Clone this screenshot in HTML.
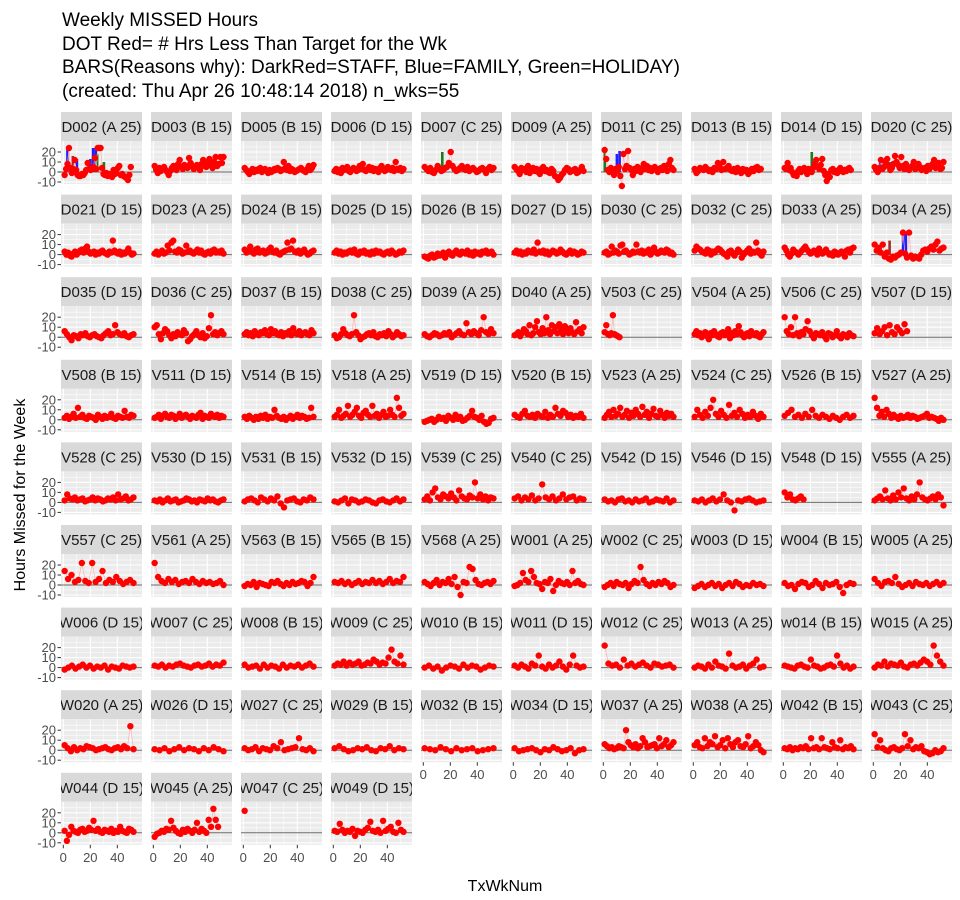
<!DOCTYPE html>
<html><head><meta charset="utf-8">
<style>
body{margin:0;background:#fff;}
svg{display:block;font-family:"Liberation Sans",Arial,sans-serif;}
</style></head>
<body>
<svg id="chart" width="960" height="900">
<g font-size="19" fill="#000">
<text x="62" y="26">Weekly MISSED Hours</text>
<text x="62" y="50">DOT Red= # Hrs Less Than Target for the Wk</text>
<text x="62" y="73">BARS(Reasons why): DarkRed=STAFF, Blue=FAMILY, Green=HOLIDAY)</text>
<text x="62" y="97">(created: Thu Apr 26 10:48:14 2018) n_wks=55</text>
</g>
<text transform="translate(25,495) rotate(-90)" text-anchor="middle" font-size="16">Hours Missed for the Week</text>
<text x="505" y="891" text-anchor="middle" font-size="16">TxWkNum</text>
<g id="panels"></g>
</svg>
<script>
const labels=["D002 (A 25)","D003 (B 15)","D005 (B 15)","D006 (D 15)","D007 (C 25)","D009 (A 25)","D011 (C 25)","D013 (B 15)","D014 (D 15)","D020 (C 25)",
"D021 (D 15)","D023 (A 25)","D024 (B 15)","D025 (D 15)","D026 (B 15)","D027 (D 15)","D030 (C 25)","D032 (C 25)","D033 (A 25)","D034 (A 25)",
"D035 (D 15)","D036 (C 25)","D037 (B 15)","D038 (C 25)","D039 (A 25)","D040 (A 25)","V503 (C 25)","V504 (A 25)","V506 (C 25)","V507 (D 15)",
"V508 (B 15)","V511 (D 15)","V514 (B 15)","V518 (A 25)","V519 (D 15)","V520 (B 15)","V523 (A 25)","V524 (C 25)","V526 (B 15)","V527 (A 25)",
"V528 (C 25)","V530 (D 15)","V531 (B 15)","V532 (D 15)","V539 (C 25)","V540 (C 25)","V542 (D 15)","V546 (D 15)","V548 (D 15)","V555 (A 25)",
"V557 (C 25)","V561 (A 25)","V563 (B 15)","V565 (B 15)","V568 (A 25)","W001 (A 25)","W002 (C 25)","W003 (D 15)","W004 (B 15)","W005 (A 25)",
"W006 (D 15)","W007 (C 25)","W008 (B 15)","W009 (C 25)","W010 (B 15)","W011 (D 15)","W012 (C 25)","W013 (A 25)","w014 (B 15)","W015 (A 25)",
"W020 (A 25)","W026 (D 15)","W027 (C 25)","W029 (B 15)","W032 (B 15)","W034 (D 15)","W037 (A 25)","W038 (A 25)","W042 (B 15)","W043 (C 25)",
"W044 (D 15)","W045 (A 25)","W047 (C 25)","W049 (D 15)"];
const lastWk=[50,52,52,52,52,52,52,50,50,52, 52,52,52,52,52,52,52,52,52,52, 52,52,52,52,52,52,12,52,52,25, 52,52,52,52,52,52,52,52,52,52, 52,52,52,52,52,52,52,52,15,52, 52,52,52,52,52,52,52,52,52,52, 52,52,52,52,52,52,52,52,52,52, 52,52,52,52,52,52,52,52,52,52, 52,48,1,52];
const values=[
"-3 3 8 24 4 -1 3 12 2 -3 -4 -4 -2 -3 -1 2 9 3 2 3 5 14 3 24 24 24 4 -2 -3 -1 -4 -2 -3 -5 2 -2 -1 4 6 -3 -2 -4 -5 -6 -8 -3 5",
"6 2 -1 4 1 3 5 2 0 -3 1 4 6 3 2 8 12 5 3 7 6 4 14 9 6 3 5 7 4 2 8 12 6 5 9 13 7 4 10 15 6 8 15 9 15",
"4 2 0 -2 1 3 0 2 1 3 4 0 2 3 1 -1 2 0 1 3 2 4 3 1 2 10 4 2 6 1 3 2 0 1 2 3 4 2 1 0 3 6 2 4 7",
"1 3 0 2 -1 4 2 3 5 1 0 2 4 3 1 2 6 3 8 2 1 3 5 2 4 1 3 2 0 4 6 3 1 2 5 3 2 4 1 10 3 2 4 1 3",
"5 3 1 4 0 -1 2 6 3 1 2 4 5 9 20 6 3 1 2 4 6 3 2 5 1 3 4 2 0 1 3 4 2 -1 3 5 2 4",
"5 3 1 -2 4 2 3 0 6 -1 2 4 1 3 0 -2 3 5 1 2 0 -1 3 1 -4 -5 -8 -6 -3 -1 2 4 3 0 1 2 3 -1 0 2 5 1",
"22 13 2 0 4 2 -3 3 1 5 -4 -14 18 3 6 21 4 2 -3 3 1 5 2 0 4 8 3 6 2 4 1 3 5 2 0 3 4 2 6 3 1 8 12 4 2",
"3 -1 1 4 3 2 5 3 1 2 0 4 3 9 5 2 10 3 4 6 2 1 3 0 4 2 -1 3 1 2 -2 0 3 1 4 5 2 3",
"4 3 9 2 4 0 -3 -2 -4 1 3 0 2 4 1 -2 3 2 0 4 8 12 5 3 7 13 1 -3 -9 -2 -5 2 3 0 1 -1 2 4 1 0 2 1 3 4 2",
"5 2 0 4 12 3 5 9 13 6 2 4 8 16 10 7 4 15 6 3 8 5 2 4 6 10 3 4 8 5 2 3 4 1 6 3 5 8 12 4 6 9 3 4 10",
"3 0 2 -1 -2 1 3 0 2 4 5 2 6 8 3 1 2 3 0 2 1 3 4 2 1 0 3 2 14 4 2 1 3 0 2 1 3 6 2 0 1",
"1 3 0 2 4 1 2 9 4 12 14 3 2 5 4 1 2 9 3 4 2 1 3 5 2 4 1 0 2 3 1 4 5 2 3 2 4 1",
"5 2 4 8 3 1 5 6 2 3 4 1 2 5 7 3 2 4 1 0 2 3 4 12 5 6 14 3 2 4 1 3 5 2 0 1 3 4",
"2 4 1 3 0 2 1 3 4 2 5 1 0 3 2 4 1 2 0 3 1 4 2 3 1 0 2 3 1 4 2 0 1 3 2 4",
"-2 -3 -4 -1 0 -3 -2 1 -1 0 2 -3 1 3 0 -1 2 4 1 0 3 2 1 4 0 2 -1 3 1 2 0 3 2 4 1 2 3 0",
"2 4 1 3 0 2 1 4 3 2 5 1 12 3 2 4 1 3 0 2 4 3 1 2 5 3 1 0 2 4 1 3 2 0 1 3 2",
"2 3 0 1 8 2 4 3 1 9 10 3 4 2 0 1 3 2 10 3 2 4 1 3 2 5 0 2 7 3 1 2 4 3 2 5 4 1 2 0",
"4 8 6 5 3 2 1 5 4 0 3 2 4 6 5 3 1 0 -2 3 4 1 -1 2 5 3 -3 0 2 4 6 1 3 2 12 4 1 -1 3",
"7 4 0 -2 1 5 3 2 0 2 4 6 8 5 3 1 2 4 3 0 6 2 1 3 5 2 0 1 -1 3 2 0 1 3 2 -2 4 5 2 6 7",
"10 4 6 2 10 -2 2 -4 -5 -2 -3 -1 0 2 22 1 -3 22 -1 -4 -2 -3 -4 0 4 5 3 6 8 5 10 13 4 6 7",
"6 3 0 -3 2 1 -1 3 2 4 1 0 2 3 1 0 -1 2 4 6 2 3 12 5 3 2 4 1 0 2 3",
"10 12 3 -2 4 8 6 2 -1 3 1 5 3 2 7 4 -4 -2 1 3 6 2 0 4 -1 1 9 22 3 5 2 4 6 3",
"3 5 2 4 1 6 3 2 5 4 7 3 2 8 4 6 3 2 5 1 4 3 6 2 9 4 3 6 2 4 5 3 2 7 4",
"2 -1 0 3 8 4 2 1 3 22 5 2 -2 0 1 3 4 2 5 1 0 3 2 4 1 6 3 0 2 5 3 1 2",
"3 1 0 2 4 3 1 2 4 3 5 0 2 4 6 3 2 14 5 3 6 4 2 7 20 5 3 8 4",
"2 3 5 1 4 8 6 3 12 2 4 10 16 5 3 9 4 20 7 3 12 6 10 4 13 8 3 11 6 4 9 5 3 15 6 8 4 10",
"5 12 3 2 4 22 3 2 1 0",
"3 6 2 4 0 3 5 1 -2 4 2 6 3 1 0 4 5 2 3 8 -1 4 2 6 3 11 5 2 0 3 4 1 6 3 2 4 1 0 3 5",
"20 6 3 10 2 20 4 1 5 3 8 16 6 2 -1 4 3 2 5 1 -2 4 3 0 2 6 1 -1 3 2 0 4 2 1",
"4 9 3 6 10 2 12 5 3 10 7 4 13 6",
"2 4 1 3 6 2 12 3 5 2 1 4 3 2 0 5 3 1 4 2 3 6 2 1 4 3 2 9 3 2 5 4",
"2 3 5 1 4 6 3 2 5 4 1 3 6 2 4 5 3 1 4 3 2 5 7 1 4 3 2 6 4 3 5 2 4 3",
"3 1 4 2 0 3 1 4 2 5 1 3 2 10 4 2 1 3 0 2 4 1 3 5 2 4 3 1 2 12 3",
"3 5 10 2 4 6 14 3 5 8 12 4 2 7 9 5 3 14 4 6 2 5 8 3 4 10 5 3 22 12 4 6",
"-2 -1 0 1 -2 0 3 1 2 -1 4 2 0 5 1 3 -1 0 2 4 9 3 2 0 4 -2 -4 -3 1 2",
"5 3 2 6 9 4 3 5 2 6 4 3 8 2 5 3 12 6 4 9 7 3 5 2 4 3 6 2",
"2 5 8 3 10 4 6 12 3 5 9 2 7 4 10 6 3 13 5 8 2 6 11 4 3 9 5 2 7 4 6 3",
"3 10 5 2 8 4 12 20 6 3 9 5 2 15 4 7 3 10 6 2 5 3 8 4 1 6 3",
"4 7 10 3 5 2 6 3 10 4 2 5 3 1 4 2 0 3 5 2 4",
"22 12 4 8 3 10 6 2 5 3 1 4 2 3 5 2 4 3 1 2 3 4 6 2 3 2 1 -1 2 0",
"2 8 4 3 5 2 3 4 1 2 3 5 2 4 3 1 2 4 3 5 2 8 3 4 6 2 3 5",
"2 1 3 0 2 4 1 2 3 0 1 2 4 3 1 2 0 3 2 1 4 2 3 1 0 2 3",
"1 3 4 2 0 5 3 1 4 2 6 -1 -5 2 3 4 1 0 3 2 5 3",
"1 0 2 4 -1 3 2 0 1 3 2 0 -1 2 3 1 0 2 4 1 3",
"3 6 2 10 14 5 3 8 6 4 9 5 2 12 6 4 3 7 5 20 4 8 3 6 2 5 4",
"4 6 2 5 3 7 2 4 18 5 3 6 2 4 8 3 5 6 2 4 3",
"3 1 2 0 3 4 1 2 0 3 1 2 4 0 1 3 2 1 4 0 2",
"2 1 3 0 2 4 1 3 8 2 0 -8 2 1 3 4 2 0 1 2",
"10 5 8 3 2 4 6 3",
"2 4 6 3 12 4 2 7 3 10 5 14 4 2 6 3 8 20 5 3 2 4 6 3 8 5 -3",
"14 6 10 3 5 22 4 2 22 3 6 14 2 5 3 8 4 1 3 5 2",
"22 8 4 2 6 3 5 1 3 4 2 6 3 1 4 2 3 1 2 4 0",
"-1 1 0 3 -2 2 1 0 -1 3 2 4 1 -1 2 0 3 1 2 4 3 -1 2 8",
"3 2 4 1 3 0 2 4 1 3 2 5 2 4 1 3 6 2 4 3 8",
"3 1 -1 2 5 0 3 2 6 1 8 -2 -10 3 2 18 16 5 1 0 2 3 1 4",
"-1 0 2 12 5 3 14 8 2 1 -4 3 2 6 -6 0 4 2 1 3 0 14 2 4 1 0",
"-2 0 2 -1 3 1 0 2 -3 1 4 2 18 5 1 -1 2 0 3 1 4 2 -2 0",
"-3 -1 1 -2 0 2 -1 1 -3 0 2 -1 3 1 -2 0 -1 2 0 1 -1",
"2 -1 0 -4 1 3 2 -2 0 4 1 -3 2 0 1 3 -2 -8 0 2 1",
"6 2 -1 3 4 2 8 1 -2 0 2 -1 3 1 0 2 -1 1 3 0 2",
"-2 0 2 -1 1 3 0 2 -1 1 0 2 -2 1 0 -1 2 1 0 1",
"2 1 3 0 2 1 3 4 2 1 0 2 3 1 2 4 1 3 2 5",
"3 0 1 2 -1 3 0 2 1 -1 3 0 2 1 3 0 2 4 1",
"2 4 3 6 2 5 3 4 6 2 3 5 4 8 6 3 5 4 10 18 6 4 12 3",
"0 2 -1 1 -3 0 2 1 -1 3 0 2 1 -2 0 2 1",
"2 0 3 1 -1 4 2 12 1 -1 3 0 2 6 1 -2 3 12 2 0 1",
"22 4 2 3 0 8 2 4 1 3 5 2 0 4 3 1 2 3 0",
"0 2 1 -1 3 0 6 2 1 -1 14 2 0 1 3 -1 2 4 8 0 1",
"2 1 0 -1 2 3 1 0 8 2 1 -1 0 2 3 1 12 4 0 2 -1 1",
"0 3 2 6 1 4 3 2 5 1 0 3 4 2 5 8 6 3 22 12 6 2",
"5 2 -1 3 0 2 1 4 3 2 0 1 2 3 1 0 2 3 1 4 2 24 1",
"1 0 2 -1 1 3 0 2 1 -1 2 0 3 1 -1",
"2 0 1 3 -1 2 1 0 4 2 8 0 1 2 3 12 1 0 2 -1",
"2 4 1 -1 0 2 1 3 0 -1 2 1 4 0 2 1",
"2 1 0 3 1 -1 2 0 1 2 -1 0 1 2",
"2 -1 0 1 2 0 -2 1 0 3 1 -1 0 2 -3 0 1",
"6 4 2 3 1 2 4 3 2 20 8 5 3 6 2 4 12 8 3 4 5 6 2 12 4 6 10 3 5 8",
"5 8 3 2 12 4 8 6 14 3 5 10 2 12 6 3 8 10 4 3 6 14 2 4 8 5 0 -2",
"2 1 3 0 2 1 3 2 4 1 12 2 3 1 12 3 2 1 8 3 2 10 1 3 2 4 1",
"16 3 10 2 0 -1 2 3 1 0 2 16 4 10 1 3 2 4 -1 -2 -4 -3 0 -2 -1 2",
"2 -8 -2 6 2 1 0 3 4 1 2 5 3 12 2 4 1 0 3 2 1 4 0 2 1 6 2 1 0 4 3 1",
"-4 -1 0 2 1 4 3 12 5 2 0 -1 3 1 4 2 0 3 10 1 4 2 0 13 6 24 13 6",
"22",
"2 1 9 3 0 2 1 4 -3 2 1 0 3 5 11 2 1 3 0 12 2 4 6 1 0 10 3 1"];
const barW=["3 7 10 20 22 24 25 30","","","","14","","1 10 12","","21","5 12","","","","","","","","","","4 12 22 24","","","","","","","","","","","","","","","","","","","","","","","","","","","","","","","","","","","","","","","","","","","","","","","","","","","","","","","","","","","","",""];
const barH=["24 16 13 13 24 24 18 10","","","","20","","22 18 21","","20","12 10","","","","","","","","","","10 14 22 22","","","","","","","","","","","","","","","","","","","","","","","","","","","","","","","","","","","","","","","","","","","","","","","","","","","","","","","","","","","","",""];
const barC=["b r b b b b g g","","","","g","","g b b","","g","b g","","","","","","","","","","r r b b","","","","","","","","","","","","","","","","","","","","","","","","","","","","","","","","","","","","","","","","","","","","","","","","","","","","","","","","","","",""];
const yTicks=[-10,0,10,20];
const xTicks=[0,20,40];
const NS="http://www.w3.org/2000/svg";
const root=document.getElementById('panels');
const COLS={b:"#1f1fff",g:"#1d7a1d",r:"#a52a2a"};
function mk(t,a,p){const e=document.createElementNS(NS,t);for(const k in a)e.setAttribute(k,a[k]);p.appendChild(e);return e;}
labels.forEach((lab,i)=>{
  const col=i%10,row=Math.floor(i/10);
  const px=61+col*90, st=112+row*82.6, pt=st+29, pw=81, ph=43;
  const sx=w=>px+2.3+w*1.35;
  const sy=v=>pt+31-v;
  const g=mk('g',{},root);
  
  
  const strip=mk('rect',{x:px,y:st,width:pw,height:29,fill:"#d9d9d9"},g);
  
  
  const cp=mk('clipPath',{id:'c'+i},g);mk('rect',{x:px,y:st,width:pw,height:29},cp);
  const t=mk('text',{x:px+pw/2,y:st+20,'text-anchor':'middle','font-size':15,fill:"#1a1a1a",'clip-path':'url(#c'+i+')'},g);
  t.textContent=lab;
  
  
  mk('rect',{x:px,y:pt,width:pw,height:ph,fill:"#ebebeb"},g);
  for(let v=-15;v<=25;v+=5){const y=sy(v);if(y<pt||y>pt+ph)continue;mk('line',{x1:px,x2:px+pw,y1:y,y2:y,stroke:"#fff",'stroke-width':v%10===0?1.1:0.55},g);}
  for(let w=0;w<=55;w+=10){const x=sx(w);if(x>px+pw)continue;mk('line',{x1:x,x2:x,y1:pt,y2:pt+ph,stroke:"#fff",'stroke-width':w%20===0?1.1:0.55},g);}
  mk('line',{x1:px,x2:px+pw,y1:sy(0),y2:sy(0),stroke:"#6b6b6b",'stroke-width':1},g);
  const bw=barW[i]?barW[i].split(' ').map(Number):[],bh=barH[i]?barH[i].split(' ').map(Number):[],bc=barC[i]?barC[i].split(' '):[];
  bw.forEach((w,k)=>{const r=mk('rect',{x:sx(w)-1.2,y:sy(bh[k]),width:2.6,height:bh[k],fill:COLS[bc[k]]},g);
    
    });
  const vals=values[i].split(' ').map(Number);
  const n=vals.length, lw=lastWk[i];
  const wk=k=>n>1?1+k*(lw-1)/(n-1):lw;
  const pts=vals.map((v,k)=>sx(wk(k))+','+sy(v)).join(' ');
  mk('polyline',{points:pts,fill:'none',stroke:'#ffb0b0','stroke-width':0.7},g);
  vals.forEach((v,k)=>{const c=mk('circle',{cx:sx(wk(k)),cy:sy(v),r:3.2,fill:"#ff0000"},g);
    
    });
  if(col===0){yTicks.forEach(v=>{mk('line',{x1:px-3.5,x2:px,y1:sy(v),y2:sy(v),stroke:"#333"},g);
    const tt=mk('text',{x:px-5,y:sy(v)+4.5,'text-anchor':'end','font-size':13,fill:"#4d4d4d"},g);tt.textContent=v;
    
    });}
  const bottom=(row===8)||(row===7&&col>=4);
  if(bottom){xTicks.forEach(w=>{mk('line',{x1:sx(w),x2:sx(w),y1:pt+ph,y2:pt+ph+3.5,stroke:"#333"},g);
    const tt=mk('text',{x:sx(w),y:pt+ph+17,'text-anchor':'middle','font-size':13,fill:"#4d4d4d"},g);tt.textContent=w;
    
    });}
});
</script>
</body></html>
